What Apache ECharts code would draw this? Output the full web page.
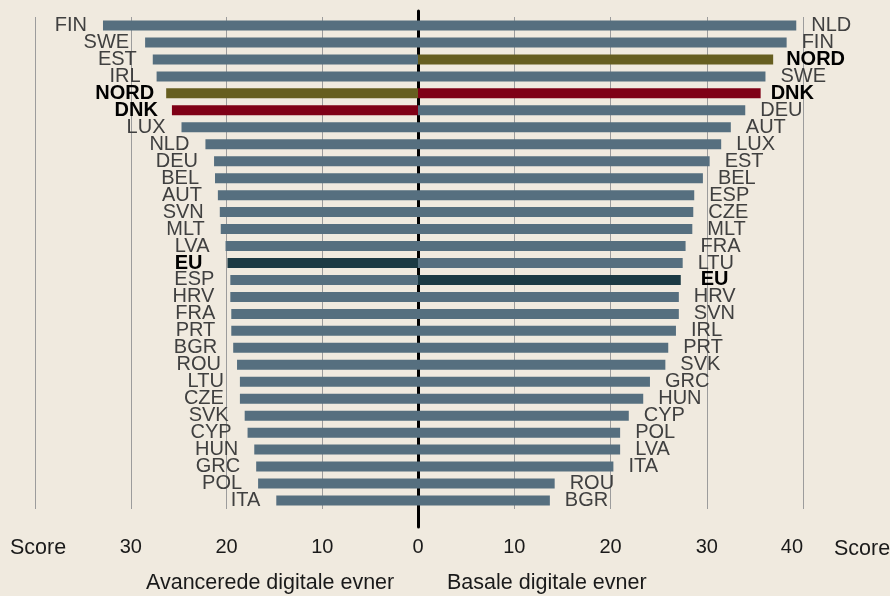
<!DOCTYPE html>
<html><head><meta charset="utf-8">
<script src="https://cdn.jsdelivr.net/npm/echarts@6/dist/echarts.min.js"></script>
<style>html,body{margin:0;padding:0;background:#f0eadf}#c{width:890px;height:596px}</style>
</head><body><div id="c"></div>
<script>
// Left panel: Avancerede digitale evner
const leftCategories = ['FIN','SWE','EST','IRL','NORD','DNK','LUX','NLD','DEU','BEL','AUT','SVN','MLT','LVA','EU','ESP','HRV','FRA','PRT','BGR','ROU','LTU','CZE','SVK','CYP','HUN','GRC','POL','ITA'];
const leftValues = [32.9,28.5,27.7,27.3,26.3,25.7,24.7,22.2,21.3,21.2,20.9,20.7,20.6,20.1,19.9,19.6,19.6,19.5,19.5,19.3,18.9,18.6,18.6,18.1,17.8,17.1,16.9,16.7,14.8];
// Right panel: Basale digitale evner
const rightCategories = ['NLD','FIN','NORD','SWE','DNK','DEU','AUT','LUX','EST','BEL','ESP','CZE','MLT','FRA','LTU','EU','HRV','SVN','IRL','PRT','SVK','GRC','HUN','CYP','POL','LVA','ITA','ROU','BGR'];
const rightValues = [39.3,38.3,36.9,36.1,35.6,34.0,32.5,31.5,30.3,29.6,28.7,28.6,28.5,27.8,27.5,27.3,27.1,27.1,26.8,26.0,25.7,24.1,23.4,21.9,21.0,21.0,20.3,14.2,13.7];
// Axis ticks
const axisTicks = [0,10,20,30,40];
const leftTickLabels = ['0','10','20','30','Score'];
const rightTickLabels = ['','10','20','30','40'];
const rightAxisName = 'Score';
const leftTitle = 'Avancerede digitale evner';
const rightTitle = 'Basale digitale evner';

const baseColor = '#566f7f';
const highlightColors = {NORD:'#665e20', DNK:'#7f0016', EU:'#1c3a44'};
const leftLabelGap = {EU:25, NORD:12, DNK:14};
const rightLabelGap = {EU:20, NORD:13, DNK:10};
const FONT = "'Liberation Sans', Arial, sans-serif";

function buildData(cats, vals, gaps){
  return vals.map((v,i)=>{
    const c = cats[i];
    const hl = highlightColors[c];
    const lab = hl ? {fontWeight:'bold', color:'#000'} : {};
    if (gaps[c] !== undefined) lab.distance = gaps[c];
    return {value: v, itemStyle: {color: hl || baseColor}, label: lab};
  });
}

const chart = echarts.init(document.getElementById('c'), null, {renderer:'canvas'});
const hiddenCatAxis = (gi, data) => ({
  type:'category', gridIndex: gi, data: data, inverse: true,
  axisLine:{show:false}, axisTick:{show:false}, axisLabel:{show:false}, splitLine:{show:false}
});
const splitStyle = {show:true, lineStyle:{color:'#9c9c9c', width:1}};
const tickLabelStyle = {fontSize:20, color:'#1a1a1a', fontFamily:FONT, margin:28};

chart.setOption({
  animation:false,
  backgroundColor:'#f0eadf',
  textStyle:{fontFamily:FONT},
  title:[
    {text:leftTitle, left:141, top:567, textStyle:{fontSize:21.5, fontWeight:'normal', color:'#1a1a1a', fontFamily:FONT}},
    {text:rightTitle, left:442, top:567, textStyle:{fontSize:21.5, fontWeight:'normal', color:'#1a1a1a', fontFamily:FONT}}
  ],
  grid:[
    {left:35, right:472, top:17, bottom:87, outerBoundsMode:'none', containLabel:false},
    {left:418, right:87, top:17, bottom:87, outerBoundsMode:'none', containLabel:false},
    {left:418, right:87, top:11, bottom:69, outerBoundsMode:'none', containLabel:false}
  ],
  xAxis:[
    {type:'value', gridIndex:0, min:0, max:40, interval:10, inverse:true,
     axisLine:{show:false}, axisTick:{show:false}, splitLine:splitStyle,
     axisLabel:Object.assign({formatter:v=>{const t=leftTickLabels[axisTicks.indexOf(v)]; return t==='Score' ? '{s|'+t+'}' : t;},
       rich:{s:{fontSize:21.5, color:'#1a1a1a', fontFamily:FONT, padding:[0,0,0,6]}}}, tickLabelStyle)},
    {type:'value', gridIndex:1, min:0, max:40, interval:10,
     axisLine:{show:false}, axisTick:{show:false}, splitLine:splitStyle,
     axisLabel:Object.assign({formatter:v=>rightTickLabels[axisTicks.indexOf(v)], alignMaxLabel:'right'}, tickLabelStyle),
     name:rightAxisName, nameLocation:'end', nameGap:31,
     nameTextStyle:{fontSize:21.5, color:'#1a1a1a', fontFamily:FONT, verticalAlign:'top', padding:[29,0,0,0]}},
    {type:'value', gridIndex:2, min:0, max:40, show:false}
  ],
  yAxis:[
    hiddenCatAxis(0, leftCategories),
    hiddenCatAxis(1, rightCategories),
    {type:'value', gridIndex:2, min:0, max:1,
     axisLine:{show:true, onZero:false, lineStyle:{color:'#000', width:3}},
     axisTick:{show:false}, axisLabel:{show:false}, splitLine:{show:false}}
  ],
  series:[
    {type:'bar', xAxisIndex:0, yAxisIndex:0, barWidth:10, data:buildData(leftCategories, leftValues, leftLabelGap),
     label:{show:true, position:'left', distance:16, formatter:'{b}', fontSize:20, color:'#404040', fontFamily:FONT}},
    {type:'bar', xAxisIndex:1, yAxisIndex:1, barWidth:10, data:buildData(rightCategories, rightValues, rightLabelGap),
     label:{show:true, position:'right', distance:15, formatter:'{b}', fontSize:20, color:'#404040', fontFamily:FONT}}
  ]
});
</script>
</body></html>
